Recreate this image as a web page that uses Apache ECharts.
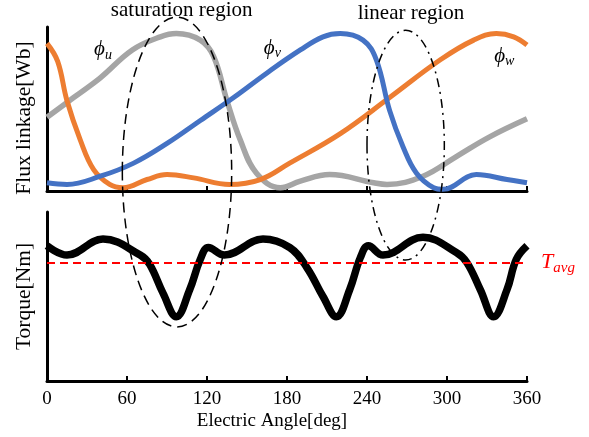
<!DOCTYPE html>
<html lang="en" style="height: 100%">
<head>
  <meta charset="utf-8">
  <title>flux-torque</title>
</head>
<body style="height: 100%; margin: 0; background: #fff">
  <div id="container" style="width: 589px;height: 437px"></div>

  <script type="text/javascript" src="https://cdn.jsdelivr.net/npm/echarts@6/dist/echarts.min.js"></script>
  <script type="text/javascript">
    // angle ticks
    const angleTicks = [0, 60, 120, 180, 240, 300, 360];

    // phase u (gray)
    const uAngle = [0, 20, 40, 64, 85, 97, 115, 125, 135, 145, 157, 175, 190, 212, 245, 255, 282, 307, 332, 360];
    const uFlux  = [.45, .57, .69, .86, .94, .96, .92, .82, .55, .31, .11, .02, .06, .10, .05, .04, .09, .21, .33, .44];

    // phase v (blue)
    const vAngle = [0, 15, 40, 65, 90, 115, 140, 165, 190, 207, 220, 237, 247, 257, 267, 277, 290, 297, 322, 345, 360];
    const vFlux  = [.05, .04, .09, .17, .29, .43, .57, .72, .86, .94, .96, .92, .80, .49, .27, .11, .02, .01, .10, .07, .05];

    // phase w (orange)
    const wAngle = [0, 8, 15, 25, 35, 47, 57, 75, 90, 110, 137, 160, 182, 220, 257, 295, 320, 337, 350, 360];
    const wFlux  = [.90, .79, .55, .31, .13, .04, .02, .07, .10, .08, .04, .07, .17, .35, .57, .80, .92, .96, .94, .89];

    // torque
    const tAngle  = [0, 15, 42, 70, 77, 87, 97, 107, 115, 121, 133, 162, 182, 195, 207, 217, 227, 235, 241, 252, 282, 307, 315, 325, 335, 345, 352, 360];
    const torque  = [.80, .745, .84, .745, .69, .52, .38, .54, .72, .79, .745, .84, .79, .67, .50, .38, .54, .73, .80, .745, .85, .76, .70, .54, .38, .54, .72, .80];
    const tAvg = 0.70;

    function pairs(a, v) {
      return a.map(function (x, i) { return [x, v[i]]; });
    }

    var FONT = 'Liberation Serif';
    var dom = document.getElementById('container');
    var myChart = echarts.init(dom, null, { renderer: 'canvas' });

    var axisLine = { show: true, lineStyle: { color: '#000', width: 3 } };

    var option = {
      animation: false,
      grid: [
        { left: 47, top: 27, width: 480, height: 164 },
        { left: 47, top: 212, width: 480, height: 169 }
      ],
      xAxis: [
        {
          gridIndex: 0, type: 'value', min: 0, max: 360, interval: 60,
          axisLine: axisLine,
          axisTick: { show: true, inside: true, length: 5, lineStyle: { color: '#000', width: 2 } },
          axisLabel: { show: false },
          splitLine: { show: false }
        },
        {
          gridIndex: 1, type: 'value', min: 0, max: 360, interval: 60,
          axisLine: axisLine,
          axisTick: { show: true, inside: true, length: 5, lineStyle: { color: '#000', width: 2 } },
          axisLabel: { color: '#000', fontFamily: FONT, fontSize: 19, margin: 9 },
          splitLine: { show: false },
          name: 'Electric Angle[deg]',
          nameLocation: 'middle',
          nameGap: 31,
          nameTextStyle: { color: '#000', fontFamily: FONT, fontSize: 19, padding: [0, 30, 0, 0] }
        }
      ],
      yAxis: [
        {
          gridIndex: 0, type: 'value', min: 0, max: 1,
          axisLine: axisLine, axisTick: { show: false }, axisLabel: { show: false },
          splitLine: { show: false },
          name: 'Flux linkage[Wb]', nameLocation: 'middle', nameGap: 12,
          nameTextStyle: { color: '#000', fontFamily: FONT, fontSize: 21.5, padding: [0, 18, 0, 0] }
        },
        {
          gridIndex: 1, type: 'value', min: 0, max: 1,
          axisLine: axisLine, axisTick: { show: false }, axisLabel: { show: false },
          splitLine: { show: false },
          name: 'Torque[Nm]', nameLocation: 'middle', nameGap: 12,
          nameTextStyle: { color: '#000', fontFamily: FONT, fontSize: 21.5 }
        }
      ],
      series: [
        {
          name: 'phi_u', type: 'line', xAxisIndex: 0, yAxisIndex: 0,
          data: pairs(uAngle, uFlux), smooth: 0.4, showSymbol: false,
          lineStyle: { color: '#A5A5A5', width: 5.5 }
        },
        {
          name: 'phi_w', type: 'line', xAxisIndex: 0, yAxisIndex: 0,
          data: pairs(wAngle, wFlux), smooth: 0.4, showSymbol: false,
          lineStyle: { color: '#ED7D31', width: 5 }
        },
        {
          name: 'phi_v', type: 'line', xAxisIndex: 0, yAxisIndex: 0,
          data: pairs(vAngle, vFlux), smooth: 0.4, showSymbol: false,
          lineStyle: { color: '#4472C4', width: 5 }
        },
        {
          name: 'torque', type: 'line', xAxisIndex: 1, yAxisIndex: 1,
          data: pairs(tAngle, torque), smooth: 0.4, showSymbol: false,
          lineStyle: { color: '#000', width: 7.5 },
          markLine: {
            silent: true, symbol: 'none',
            lineStyle: { color: '#FF0000', type: [8, 5], width: 2 },
            label: {
              position: 'end', distance: 14,
              formatter: '{t|T}{s|avg}',
              rich: {
                t: { color: '#FF0000', fontFamily: FONT, fontStyle: 'italic', fontSize: 22 },
                s: { color: '#FF0000', fontFamily: FONT, fontStyle: 'italic', fontSize: 15, padding: [10, 0, 0, 0] }
              }
            },
            data: [{ yAxis: tAvg }]
          },
          z: 3
        }
      ]
    };

    myChart.setOption(option);

    // annotations placed through the axes
    function px(grid, x, y) {
      return myChart.convertToPixel({ gridIndex: grid }, [x, y]);
    }
    function region(cx, rx, topVal, botVal, dash) {
      var c = px(0, cx, topVal);
      var b = px(1, cx, botVal);
      var r = px(0, cx + rx, 0);
      return {
        type: 'ellipse', z: 100, silent: true,
        shape: { cx: c[0], cy: (c[1] + b[1]) / 2, rx: r[0] - c[0], ry: (b[1] - c[1]) / 2 },
        style: { fill: 'transparent', stroke: '#000', lineWidth: 1.5, lineDash: dash }
      };
    }
    function label(grid, x, y, text, extra) {
      var p = px(grid, x, y);
      return {
        type: 'text', z: 100, silent: true, x: p[0], y: p[1],
        style: Object.assign({
          text: text, fill: '#000', fontFamily: FONT, fontSize: 21,
          align: 'center', verticalAlign: 'middle'
        }, extra || {})
      };
    }
    var phiRich = {
      p: { fontFamily: FONT, fontStyle: 'italic', fontSize: 21, fill: '#000' },
      s: { fontFamily: FONT, fontStyle: 'italic', fontSize: 14, fill: '#000', padding: [10, 0, 0, 0] }
    };

    myChart.setOption({
      graphic: [
        region(97.5, 41, 1.06, 0.32, [10, 6]),
        region(269, 29, 0.98, 0.716, [9, 5, 2, 5]),
        label(0, 101, 1.10, 'saturation region'),
        label(0, 273, 1.08, 'linear region'),
        label(0, 42, 0.86, '{p|ϕ}{s|u}', { rich: phiRich }),
        label(0, 169, 0.87, '{p|ϕ}{s|v}', { rich: phiRich }),
        label(0, 343, 0.82, '{p|ϕ}{s|w}', { rich: phiRich })
      ]
    });

    window.addEventListener('resize', myChart.resize);
  </script>
</body>
</html>
